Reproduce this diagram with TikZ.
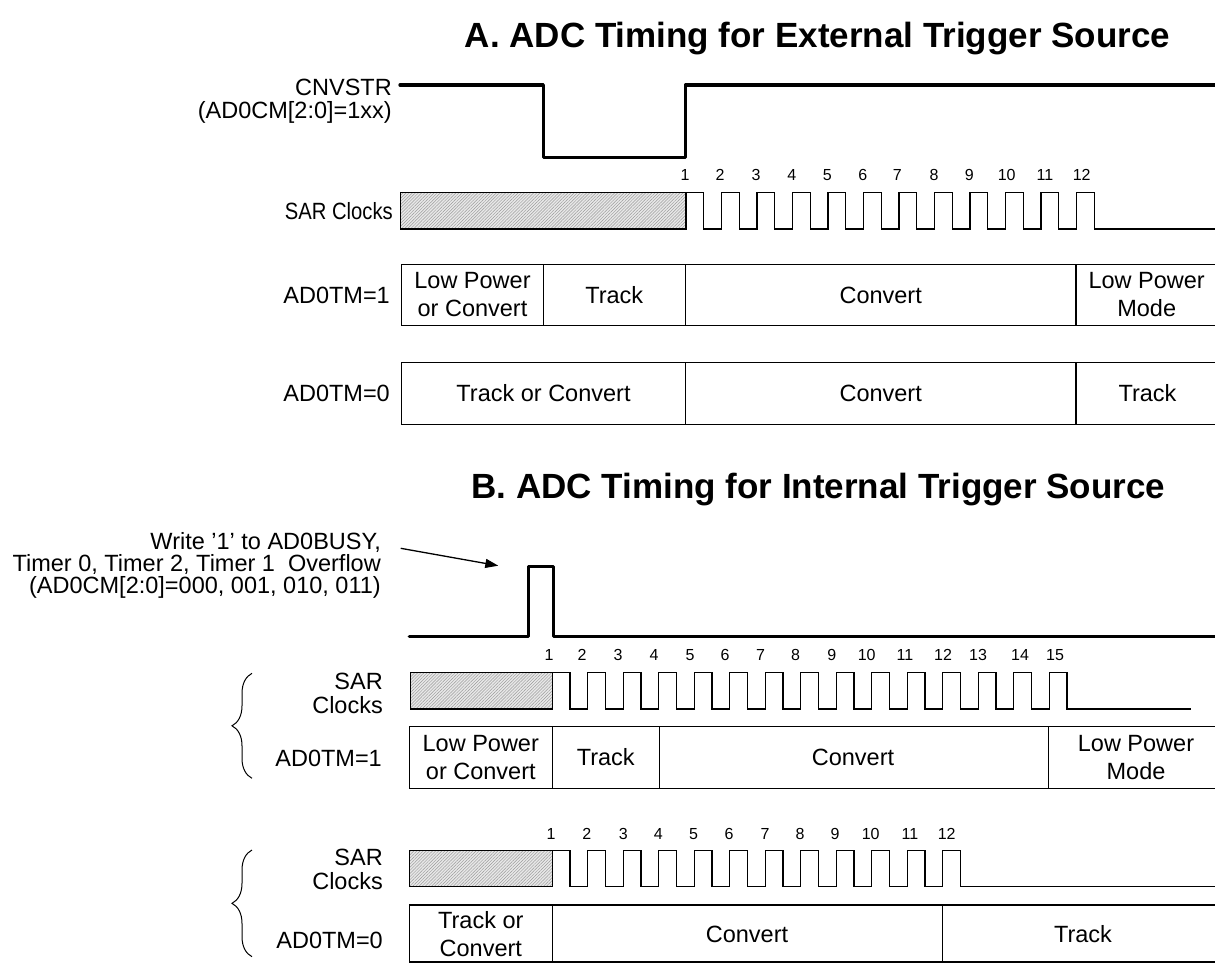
\documentclass[tikz,border=0pt]{standalone}
\usepackage{fontspec}
\setmainfont{Liberation Sans}
\newfontfamily\narrowlbl[FakeStretch=0.86]{Liberation Sans}
\usetikzlibrary{patterns.meta,decorations.pathreplacing,arrows.meta}
\begin{document}
\begin{tikzpicture}[x=1pt,y=-1pt,
  sig/.style={line width=3.3pt,line join=round,line cap=round},
  clk/.style={line width=1.3pt},
  boxln/.style={line width=1.3pt},
  hatchbox/.style={draw,line width=1.3pt,preaction={fill=gray!18},pattern={Lines[angle=45,distance=2.2pt,line width=0.45pt]},pattern color=gray!80},
  txt/.style={inner sep=0pt,font=\fontsize{23.5}{28}\selectfont},
  num/.style={inner sep=0pt,font=\fontsize{16}{18}\selectfont},
  ttl/.style={inner sep=0pt,font=\fontsize{35}{40}\selectfont\bfseries},
  brc/.style={line width=1pt,decorate,decoration={brace,amplitude=20pt}}]
\useasboundingbox (0,0) rectangle (1215,963);

% ---------------- Titles ----------------
\node[ttl,anchor=base] (tA) at (817.5,47.5) {A. ADC Timing for External Trigger Source};
\node[ttl,anchor=base] (tB) at (818.5,498.5) {B. ADC Timing for Internal Trigger Source};

% ---------------- Section A ----------------
\node[txt,anchor=north east,align=right,font=\fontsize{23.5}{23}\selectfont] (cnv) at (392,79) {CNVSTR\\(AD0CM[2:0]=1xx)};
\draw[sig] (400,85) -- (543.3,85) -- (543.3,157.3) -- (685.5,157.3) -- (685.5,85) -- (1216,85);

\node[txt,anchor=base east,font=\fontsize{23.5}{28}\narrowlbl] (sarA) at (393,219.4) {SAR Clocks};
\draw[hatchbox] (400.7,192.7) rectangle (686,229);
\draw[clk] (686,192.7) \foreach \k in {1,...,11}{ -- ++(17.75,0) -- ++(0,36.3) -- ++(17.75,0) -- ++(0,-36.3)} -- ++(17.75,0) -- ++(0,36.3) -- (1216,229);
\foreach \x [count=\i] in {685,720,756,791.7,827.3,862.7,897.3,934,969.3,1006.7,1045,1081.7}
  \node[num,anchor=base] (nA\i) at (\x,180.7) {\i};

\node[txt,anchor=base east] (tmA1) at (390,303.4) {AD0TM=1};
\draw[boxln] (1217,264.3) -- (401.7,264.3) -- (401.7,325.7) -- (1217,325.7);
\draw[boxln] (543.3,264.3) -- (543.3,325.7);
\draw[boxln] (685.3,264.3) -- (685.3,325.7);
\draw[boxln] (1076,264.3) -- (1076,325.7);
\node[txt,align=center] (a1a) at (472.5,294.5) {Low Power\\or Convert};
\node[txt,anchor=base] (a1b) at (614.3,303.4) {Track};
\node[txt,anchor=base] (a1c) at (880.7,303.4) {Convert};
\node[txt,align=center] (a1d) at (1146.7,294.5) {Low Power\\Mode};

\node[txt,anchor=base east] (tmA0) at (390,401.4) {AD0TM=0};
\draw[boxln] (1217,362.3) -- (401.7,362.3) -- (401.7,424.3) -- (1217,424.3);
\draw[boxln] (685.3,362.3) -- (685.3,424.3);
\draw[boxln] (1076,362.3) -- (1076,424.3);
\node[txt,anchor=base] (a0a) at (543.5,401.4) {Track or Convert};
\node[txt,anchor=base] (a0b) at (880.7,401.4) {Convert};
\node[txt,anchor=base] (a0c) at (1147.5,401.4) {Track};

% ---------------- Section B ----------------
\node[txt,anchor=north east,align=right,font=\fontsize{23.5}{22}\selectfont] (wr) at (381,532) {Write '1' to AD0BUSY,\\Timer 0, Timer 2, Timer 1\ \ Overflow\\(AD0CM[2:0]=000, 001, 010, 011)};
\coordinate (arrS) at (400.7,548.3);
\coordinate (arrE) at (498.3,565.7);
\draw[line width=1.3pt,-{Triangle[length=13pt,width=9pt]}] (arrS) -- (arrE);
\draw[sig] (409.3,636.7) -- (528.3,636.7) -- (528.3,566.7) -- (553.3,566.7) -- (553.3,636.7) -- (1216,636.7);

% clocks B1
\node[txt,anchor=north east,align=right,font=\fontsize{23.5}{23.5}\selectfont] (sarB1) at (383,673.3) {SAR\\Clocks};
\draw[hatchbox] (410.7,672.7) rectangle (552.3,709);
\draw[clk] (552.3,672.7) \foreach \k in {1,...,14}{ -- ++(17.75,0) -- ++(0,36.3) -- ++(17.75,0) -- ++(0,-36.3)} -- ++(17.75,0) -- ++(0,36.3) -- (1191,709);
\foreach \x [count=\i] in {549,582,618,654,690,725,760.5,795.5,831.7,866.7,905,943,978,1020,1055}
  \node[num,anchor=base] (nB\i) at (\x,660.7) {\i};
\draw[brc] (252,778.3) -- (252,673.3);

\node[txt,anchor=base east] (tmB1) at (382,766.4) {AD0TM=1};
\draw[boxln] (1217,726.7) -- (409.3,726.7) -- (409.3,788.3) -- (1217,788.3);
\draw[boxln] (552.3,726.7) -- (552.3,788.3);
\draw[boxln] (659.3,726.7) -- (659.3,788.3);
\draw[boxln] (1048.3,726.7) -- (1048.3,788.3);
\node[txt,align=center] (b1a) at (480.8,757.5) {Low Power\\or Convert};
\node[txt,anchor=base] (b1b) at (605.8,765.9) {Track};
\node[txt,anchor=base] (b1c) at (853,765.9) {Convert};
\node[txt,align=center] (b1d) at (1136,757.5) {Low Power\\Mode};

% clocks B2
\node[txt,anchor=north east,align=right,font=\fontsize{23.5}{24.5}\selectfont] (sarB2) at (383,848.4) {SAR\\Clocks};
\draw[hatchbox] (409.3,850.7) rectangle (552.3,886.7);
\draw[clk] (552.3,850.7) \foreach \k in {1,...,11}{ -- ++(17.75,0) -- ++(0,36) -- ++(17.75,0) -- ++(0,-36)} -- ++(17.75,0) -- ++(0,36) -- (1216,886.7);
\foreach \x [count=\i] in {551,586.7,623.3,658.3,693.5,729,765,800,835,870.7,910,946.7}
  \node[num,anchor=base] (nC\i) at (\x,839) {\i};
\draw[brc] (252,956.7) -- (252,850);

\node[txt,anchor=base east] (tmB0) at (383,948.4) {AD0TM=0};
\draw[boxln] (1217,905) -- (409.3,905) -- (409.3,962) -- (1217,962);
\draw[boxln] (552.3,905) -- (552.3,962);
\draw[boxln] (942.3,905) -- (942.3,962);
\node[txt,align=center] (b0a) at (480.8,933.7) {Track or\\Convert};
\node[txt,anchor=base] (b0b) at (747,942.1) {Convert};
\node[txt,anchor=base] (b0c) at (1083,942.1) {Track};
\end{tikzpicture}
\end{document}
